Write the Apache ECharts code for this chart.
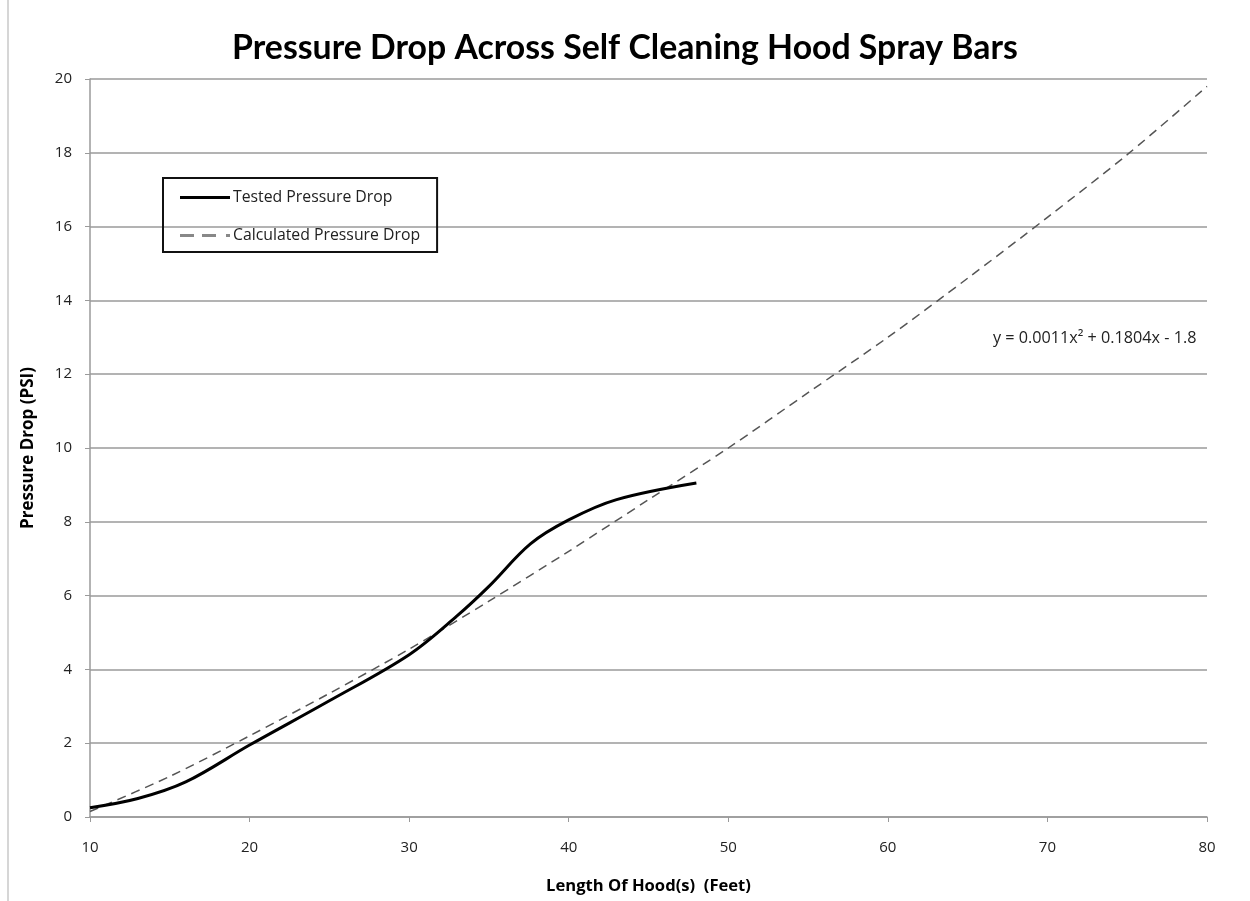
<!DOCTYPE html>
<html>
<head>
<meta charset="utf-8">
<script src="https://cdn.jsdelivr.net/npm/echarts@6/dist/echarts.min.js"></script>
<style>
  html, body { margin: 0; padding: 0; background: #fff; }
  #chart { width: 1250px; height: 901px; }
</style>
</head>
<body>
<div id="chart"></div>
<script>
// tested pressure drop [feet, psi]
var testedPoints = [
    [10, 0.25], [13, 0.5], [16, 0.95], [20, 1.95], [25, 3.15], [30, 4.4],
    [33, 5.45], [35, 6.25], [37.6, 7.4], [40, 8.05], [43, 8.6], [48, 9.05]
];

// calculated (trend) pressure drop [feet, psi]
var calculatedPoints = [
    [10, 0.15], [15, 1.1], [20, 2.2], [25, 3.35], [30, 4.55], [35, 5.85],
    [40, 7.2], [45, 8.6], [50, 10.0], [55, 11.5], [60, 13.0], [65, 14.6],
    [70, 16.25], [75, 17.95], [80, 19.8]
];

var seriesNames = ["Tested Pressure Drop", "Calculated Pressure Drop"];
var equationText = "y = 0.0011x\u00b2 + 0.1804x - 1.8";

var titleFont = "Lato, sans-serif";
var font = "'Open Sans', sans-serif";

var chart = echarts.init(document.getElementById("chart"));

var option = {
    animation: false,
    backgroundColor: "#fff",
    title: {
        text: "Pressure Drop Across Self Cleaning Hood Spray Bars",
        left: "center",
        top: 26,
        textStyle: { fontFamily: titleFont, fontSize: 33.8, fontWeight: "bold", color: "#000" }
    },
    grid: { left: 90, right: 43, top: 79, bottom: 84 },
    legend: {
        orient: "vertical",
        left: 163,
        top: 178,
        itemWidth: 50,
        itemHeight: 14,
        itemGap: 21,
        padding: [11, 17, 8, 17],
        borderColor: "#111",
        borderWidth: 2,
        textStyle: { fontFamily: font, fontSize: 15.8, lineHeight: 17, color: "#222", padding: [0, 0, 0, -2] },
        data: [
            { name: seriesNames[0], icon: "path://M0,0h50v3h-50z", itemStyle: { color: "#000" } },
            { name: seriesNames[1], icon: "path://M0,0h14v3h-14z M22,0h14v3h-14z M46,0h4v3h-4z", itemStyle: { color: "#888" } }
        ]
    },
    xAxis: {
        type: "value",
        min: 10,
        max: 80,
        interval: 10,
        name: "Length Of Hood(s)  (Feet)",
        nameLocation: "middle",
        nameGap: 61,
        nameTextStyle: { fontFamily: font, fontSize: 16.6, fontWeight: "bold", color: "#000" },
        axisLine: { lineStyle: { color: "#9a9a9a", width: 1.5 } },
        axisTick: { show: true, length: 5, lineStyle: { color: "#9a9a9a" } },
        axisLabel: { fontFamily: font, fontSize: 15, color: "#222", margin: 23 },
        splitLine: { show: false }
    },
    yAxis: {
        type: "value",
        min: 0,
        max: 20,
        interval: 2,
        name: "Pressure Drop (PSI)",
        nameLocation: "middle",
        nameGap: 53,
        nameTextStyle: { fontFamily: font, fontSize: 17, fontWeight: "bold", color: "#000" },
        axisLine: { show: true, lineStyle: { color: "#9a9a9a", width: 1.5 } },
        axisTick: { show: true, length: 5, lineStyle: { color: "#9a9a9a" } },
        axisLabel: { fontFamily: font, fontSize: 15, color: "#222", margin: 18 },
        splitLine: { lineStyle: { color: "#9a9a9a", width: 1.5 } }
    },
    graphic: [
        {
            type: "line",
            shape: { x1: 8, y1: 0, x2: 8, y2: 901 },
            style: { stroke: "#c8c8c8", lineWidth: 1.5 }
        },
        {
            type: "text",
            left: 993,
            top: 330,
            style: { text: equationText, font: "16.2px " + font, fill: "#222" }
        }
    ],
    series: [
        {
            name: seriesNames[0],
            type: "line",
            data: testedPoints,
            smooth: 0.35,
            symbol: "none",
            z: 3,
            lineStyle: { color: "#000", width: 3 },
            itemStyle: { color: "#000" }
        },
        {
            name: seriesNames[1],
            type: "line",
            data: calculatedPoints,
            smooth: 0.3,
            symbol: "none",
            z: 2,
            lineStyle: { color: "#555", width: 1.5, type: [9, 6] },
            itemStyle: { color: "#555" }
        }
    ]
};

chart.setOption(option);
</script>
</body>
</html>
